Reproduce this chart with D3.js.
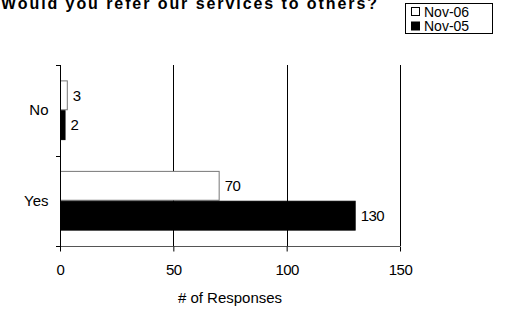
<!DOCTYPE html>
<html>
<head>
<meta charset="utf-8">
<script src="https://cdn.jsdelivr.net/npm/d3@7"></script>
<style>
  body { margin: 0; background: #fff; }
  text { font-family: "Liberation Sans", Arial, sans-serif; fill: #000; }
</style>
</head>
<body>
<svg id="chart" width="505" height="309"></svg>
<script>
// chart data
var categories = ["No", "Yes"];
var seriesNames = ["Nov-06", "Nov-05"];
var nov06 = [3, 70];
var nov05 = [2, 130];
var xTicks = [0, 50, 100, 150];
var title = "Would you refer our services to others?";
var xTitle = "# of Responses";

var colors = { "Nov-06": "#fff", "Nov-05": "#000" };
var values = { "Nov-06": nov06, "Nov-05": nov05 };
var fontFam = "Liberation Sans, Arial, sans-serif";

var svg = d3.select("#chart");
var margin = { top: 65, left: 60, right: 105, bottom: 63 };
var width = 505 - margin.left - margin.right;
var height = 309 - margin.top - margin.bottom;

var xScale = d3.scaleLinear().domain([0, 150]).range([margin.left, margin.left + width]);
var yScale = d3.scaleBand().domain(categories)
    .range([margin.top, margin.top + height])
    .paddingInner(0.34).paddingOuter(0.17);
var ySub = d3.scaleBand().domain(seriesNames).range([0, yScale.bandwidth()]);

var bottom = margin.top + height;

// vertical gridlines
svg.append("g").attr("class", "grid")
    .selectAll("line")
    .data(xTicks.slice(1))
    .enter().append("line")
    .attr("x1", d => Math.round(xScale(d)) + 0.5)
    .attr("x2", d => Math.round(xScale(d)) + 0.5)
    .attr("y1", margin.top)
    .attr("y2", bottom)
    .attr("stroke", "#000").attr("stroke-width", 1);

// bars
var rows = [];
categories.forEach(function (c, i) {
    seriesNames.forEach(function (s) {
        rows.push({ cat: c, series: s, value: values[s][i] });
    });
});

svg.append("g").attr("class", "bars")
    .selectAll("rect")
    .data(rows)
    .enter().append("rect")
    .attr("x", xScale(0) + 0.5)
    .attr("y", d => yScale(d.cat) + ySub(d.series) + 0.5)
    .attr("width", d => xScale(d.value) - xScale(0))
    .attr("height", ySub.bandwidth() - 1)
    .attr("fill", d => colors[d.series])
    .attr("stroke", d => d.series == "Nov-06" ? "#777" : "#000")
    .attr("stroke-width", 1);

// value labels
svg.append("g").attr("class", "labels")
    .selectAll("text")
    .data(rows)
    .enter().append("text")
    .attr("x", d => xScale(d.value) + 6)
    .attr("y", d => yScale(d.cat) + ySub(d.series) + ySub.bandwidth() / 2)
    .attr("dy", "0.35em")
    .attr("font-size", 15)
    .attr("letter-spacing", -0.5)
    .text(d => d.value);

// x axis
var xAxis = d3.axisBottom(xScale).tickValues(xTicks).tickSize(5).tickPadding(13);
svg.append("g")
    .attr("class", "x axis")
    .attr("transform", "translate(0," + (bottom + 0.5) + ")")
    .call(xAxis)
    .call(g => g.select(".domain").attr("stroke", "#555").attr("d", "M" + (xScale(0) - 4) + ",0H" + xScale(150)))
    .call(g => g.selectAll(".tick line").attr("stroke", "#000"))
    .call(g => g.selectAll("text").attr("font-size", 15).attr("letter-spacing", -0.5)
        .attr("font-family", fontFam).attr("fill", "#000"));

// y axis
var yAxis = d3.axisLeft(yScale).tickSize(0).tickPadding(12);
svg.append("g")
    .attr("class", "y axis")
    .attr("transform", "translate(" + (xScale(0) + 0.5) + ",0)")
    .call(yAxis)
    .call(g => g.select(".domain").attr("stroke", "#000").attr("d", "M0," + margin.top + "V" + (bottom + 5)))
    .call(g => g.selectAll("text").attr("font-size", 15).attr("font-family", fontFam).attr("fill", "#000"));

// category separator ticks
var sepY = [margin.top, margin.top + height / 2, bottom];
svg.append("g").selectAll("line")
    .data(sepY)
    .enter().append("line")
    .attr("x1", xScale(0) - 4).attr("x2", xScale(0))
    .attr("y1", d => Math.round(d) + 0.5).attr("y2", d => Math.round(d) + 0.5)
    .attr("stroke", "#000");

// axis title
svg.append("text")
    .attr("x", xScale(75))
    .attr("y", 303)
    .attr("text-anchor", "middle")
    .attr("font-size", 15)
    .text(xTitle);

// chart title (top edge is clipped in the source image too)
svg.append("text")
    .attr("x", 1)
    .attr("y", 9)
    .attr("font-size", 16)
    .attr("font-weight", "bold")
    .attr("textLength", 376)
    .attr("lengthAdjust", "spacing")
    .text(title);

// legend
var legend = svg.append("g").attr("transform", "translate(405,3)");
legend.append("rect")
    .attr("x", 0.5).attr("y", 0.5)
    .attr("width", 87).attr("height", 30)
    .attr("fill", "#fff").attr("stroke", "#000");
var li = legend.selectAll("g.item")
    .data(seriesNames)
    .enter().append("g")
    .attr("class", "item")
    .attr("transform", (d, i) => "translate(6," + (8 + i * 14.5) + ")");
li.append("rect")
    .attr("x", 0.5).attr("y", -3.5)
    .attr("width", 8).attr("height", 8)
    .attr("fill", d => colors[d])
    .attr("stroke", "#000");
li.append("text")
    .attr("x", 13)
    .attr("y", 1)
    .attr("dy", "0.35em")
    .attr("font-size", 14)
    .text(d => d);
</script>
</body>
</html>
